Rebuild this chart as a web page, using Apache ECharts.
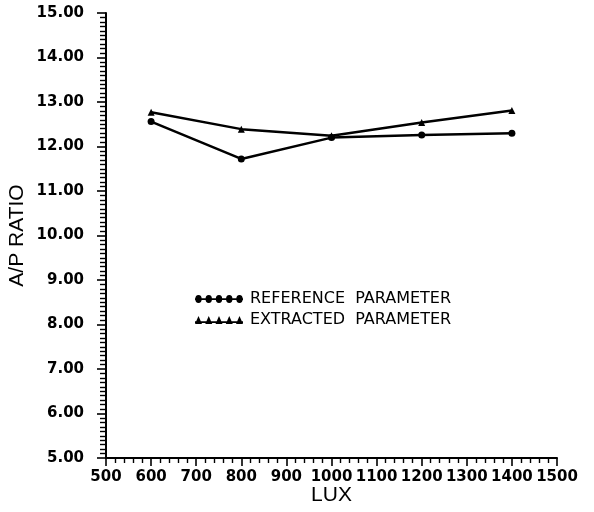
<!DOCTYPE html>
<html>
<head>
<meta charset="utf-8">
<script src="https://cdn.jsdelivr.net/npm/echarts@6/dist/echarts.min.js"></script>
<style>
html,body{margin:0;padding:0;background:#fff;}
#chart{width:594px;height:512px;}
</style>
</head>
<body>
<div id="chart"></div>
<script>
const luxValues = [600, 800, 1000, 1200, 1400];
const referenceParameter = [12.56, 11.72, 12.20, 12.26, 12.30];
const extractedParameter = [12.77, 12.39, 12.24, 12.54, 12.81];
const seriesNames = ['REFERENCE  PARAMETER', 'EXTRACTED  PARAMETER'];
const xTicks = [500, 1500, 100];
const yTicks = [5, 15, 1];

function pairs(xs, ys) { return xs.map((x, i) => [x, ys[i]]); }

function circleIcon() {
  let p = 'M0 3.3 L48 3.3 L48 4.7 L0 4.7 Z';
  [3.5, 13.75, 24, 34.25, 44.5].forEach(c => {
    p += ` M${c-3.2} 4 A3.2 3.2 0 1 1 ${c+3.2} 4 A3.2 3.2 0 1 1 ${c-3.2} 4 Z`;
  });
  return 'path://' + p;
}
function triIcon() {
  let p = 'M0 5.3 L48 5.3 L48 6.7 L0 6.7 Z';
  [3.5, 13.75, 24, 34.25, 44.5].forEach(c => {
    p += ` M${c-3.5} 7.5 L${c} 1 L${c+3.5} 7.5 Z`;
  });
  return 'path://' + p;
}

const chart = echarts.init(document.getElementById('chart'));
const axisFont = 'DejaVu Sans';
chart.setOption({
  backgroundColor: '#ffffff',
  animation: false,
  grid: { left: 106, right: 37, top: 13, bottom: 54, outerBoundsMode: 'none', containLabel: false },
  legend: {
    orient: 'vertical',
    left: 190,
    top: 286,
    itemWidth: 48,
    itemHeight: 8,
    itemGap: 5,
    symbolKeepAspect: false,
    textStyle: { fontFamily: 'DejaVu Sans', fontSize: 16, color: '#000', padding: [0,0,0,2] },
    data: [
      { name: seriesNames[0], icon: circleIcon(), itemStyle: { color: '#000' } },
      { name: seriesNames[1], icon: triIcon(), itemStyle: { color: '#000' } }
    ]
  },
  xAxis: {
    type: 'value',
    min: xTicks[0], max: xTicks[1], interval: xTicks[2],
    name: 'LUX',
    nameLocation: 'middle',
    nameGap: 27,
    nameMoveOverlap: false,
    nameTextStyle: { fontFamily: 'Liberation Sans', fontSize: 21, color: '#000' },
    axisLine: { show: true, onZero: false, lineStyle: { color: '#000', width: 2 } },
    axisTick: { show: true, length: 8, lineStyle: { color: '#000', width: 1.6 } },
    minorTick: { show: true, splitNumber: 5, length: 5, lineStyle: { color: '#000', width: 1.4 } },
    splitLine: { show: false },
    axisLabel: { color: '#000', fontFamily: axisFont, fontWeight: 'bold', fontSize: 15, margin: 12, hideOverlap: false, showMinLabel: true, showMaxLabel: true, formatter: v => String(v) }
  },
  yAxis: {
    type: 'value',
    min: yTicks[0], max: yTicks[1], interval: yTicks[2],
    name: 'A/P RATIO',
    nameLocation: 'middle',
    nameGap: 78,
    nameMoveOverlap: false,
    nameRotate: 90,
    nameTextStyle: { fontFamily: 'Liberation Sans', fontSize: 21, color: '#000' },
    axisLine: { show: true, onZero: false, lineStyle: { color: '#000', width: 2 } },
    axisTick: { show: true, length: 9, lineStyle: { color: '#000', width: 1.6 } },
    minorTick: { show: true, splitNumber: 10, length: 6, lineStyle: { color: '#000', width: 1.4 } },
    splitLine: { show: false },
    axisLabel: { color: '#000', fontFamily: axisFont, fontWeight: 'bold', fontSize: 15, margin: 22, formatter: v => v.toFixed(2) }
  },
  series: [
    {
      name: seriesNames[0],
      type: 'line',
      data: pairs(luxValues, referenceParameter),
      symbol: 'circle',
      symbolSize: 7,
      lineStyle: { color: '#000', width: 2.5 },
      itemStyle: { color: '#000' }
    },
    {
      name: seriesNames[1],
      type: 'line',
      data: pairs(luxValues, extractedParameter),
      symbol: 'triangle',
      symbolSize: 7,
      lineStyle: { color: '#000', width: 2.5 },
      itemStyle: { color: '#000' }
    }
  ]
});
</script>
</body>
</html>
